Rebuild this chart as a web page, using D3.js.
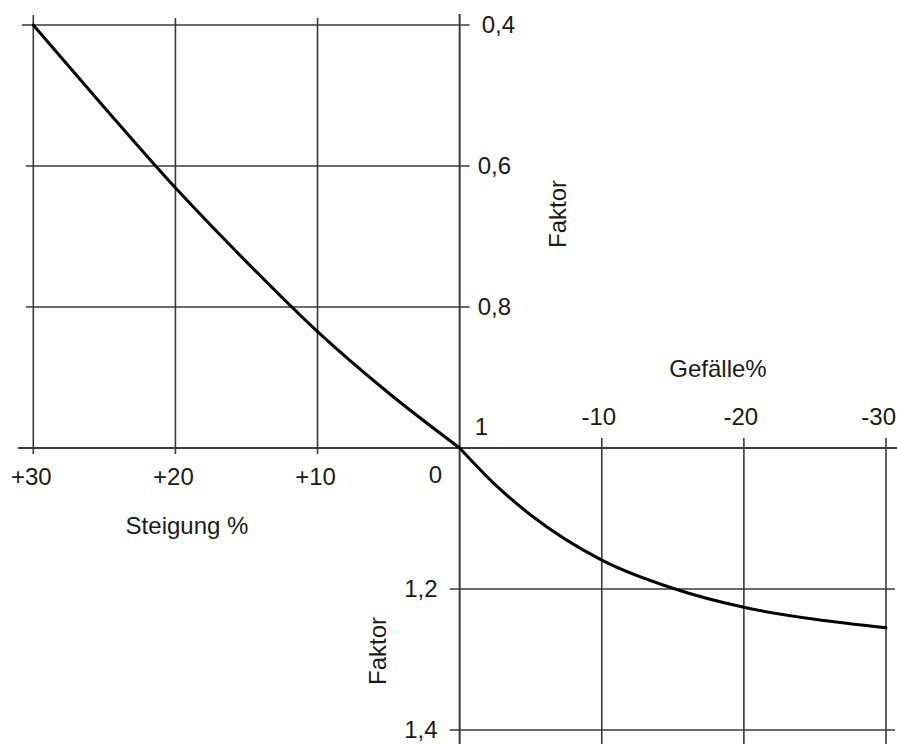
<!DOCTYPE html>
<html>
<head>
<meta charset="utf-8">
<script src="https://cdn.jsdelivr.net/npm/d3@7"></script>
<style>
  html, body { margin: 0; padding: 0; background: #ffffff; }
  svg { display: block; }
  text { font-family: "Liberation Sans", Arial, Helvetica, sans-serif; fill: #1a1a1a; }
</style>
</head>
<body>
<svg id="chart" width="897" height="744"></svg>
<script>
// ---- data ----
const slopePct = [30, 25, 20, 15, 10, 5, 0, -2.5, -5, -10, -15, -20, -25, -30];
const factorValues = [0.400, 0.517, 0.631, 0.736, 0.835, 0.922, 1.0, 1.052, 1.095, 1.159, 1.199, 1.226, 1.243, 1.255];

const steigungTicks = [30, 20, 10];
const steigungLabels = ["+30", "+20", "+10"];
const gefaelleTicks = [-10, -20, -30];
const gefaelleLabels = ["-10", "-20", "-30"];
const upperFactorTicks = [0.4, 0.6, 0.8];
const upperFactorLabels = ["0,4", "0,6", "0,8"];
const lowerFactorTicks = [1.2, 1.4];
const lowerFactorLabels = ["1,2", "1,4"];

// ---- setup ----
const W = 897, H = 744;
const svg = d3.select("#chart");
const x = d3.scaleLinear().domain([30, -30]).range([33.3, 886]);
const y = d3.scaleLinear().domain([0.4, 1.4]).range([25, 730]);
const x0 = x(0), y1 = y(1);
const gridColor = "#3a3a3a";
const fs = 24;

const grid = svg.append("g").attr("stroke", gridColor).attr("stroke-width", 1.6).attr("fill", "none");

// upper-left vertical grid lines (Steigung)
grid.selectAll("line.vup").data(steigungTicks).join("line")
  .attr("x1", d => x(d)).attr("x2", d => x(d))
  .attr("y1", (d, i) => i === 0 ? 15 : 18).attr("y2", y1 + 6);

// upper-left horizontal grid lines (factor < 1)
grid.selectAll("line.hup").data(upperFactorTicks).join("line")
  .attr("x1", (d, i) => i === 0 ? 22 : 26).attr("x2", x0 + 10)
  .attr("y1", d => y(d)).attr("y2", d => y(d));

// lower-right vertical grid lines (Gefälle)
grid.selectAll("line.vdn").data(gefaelleTicks).join("line")
  .attr("x1", d => x(d)).attr("x2", d => x(d))
  .attr("y1", y1 - 10).attr("y2", H);

// lower-right horizontal grid lines (factor > 1)
grid.selectAll("line.hdn").data(lowerFactorTicks).join("line")
  .attr("x1", x0 - 10).attr("x2", 895)
  .attr("y1", d => y(d)).attr("y2", d => y(d));

// main axes
grid.append("line").attr("x1", 18).attr("x2", W).attr("y1", y1).attr("y2", y1).attr("stroke-width", 2);
grid.append("line").attr("x1", x0).attr("x2", x0).attr("y1", 14).attr("y2", H).attr("stroke-width", 2);

// ---- curve (two branches meeting at 0 with a kink) ----
const pts = slopePct.map((p, i) => [p, factorValues[i]]);
const upBranch = pts.filter(d => d[0] >= 0);
const downBranch = pts.filter(d => d[0] <= 0);
const line = d3.line().x(d => x(d[0])).y(d => y(d[1])).curve(d3.curveMonotoneX);
svg.selectAll("path.curve").data([upBranch, downBranch]).join("path")
  .attr("class", "curve")
  .attr("d", line)
  .attr("fill", "none")
  .attr("stroke", "#000")
  .attr("stroke-width", 3)
  .attr("stroke-linejoin", "round")
  .attr("stroke-linecap", "round");

// ---- labels ----
const lab = svg.append("g").attr("font-size", fs);

lab.selectAll("text.st").data(steigungTicks).join("text")
  .attr("x", d => x(d) - 2).attr("y", y1 + 37)
  .attr("text-anchor", "middle")
  .text((d, i) => steigungLabels[i]);

lab.selectAll("text.gf").data(gefaelleTicks).join("text")
  .attr("x", (d, i) => i === 2 ? 896 : x(d) - 3).attr("y", y1 - 23)
  .attr("text-anchor", (d, i) => i === 2 ? "end" : "middle")
  .text((d, i) => gefaelleLabels[i]);

lab.selectAll("text.uf").data(upperFactorTicks).join("text")
  .attr("x", (d, i) => i === 0 ? x0 + 22 : x0 + 18).attr("y", d => y(d) + 8)
  .attr("text-anchor", "start")
  .text((d, i) => upperFactorLabels[i]);

lab.selectAll("text.lf").data(lowerFactorTicks).join("text")
  .attr("x", x0 - 22).attr("y", d => y(d) + 8)
  .attr("text-anchor", "end")
  .text((d, i) => lowerFactorLabels[i]);

lab.append("text").attr("x", x0 + 15).attr("y", y1 - 13).text("1");
lab.append("text").attr("x", x0 - 31).attr("y", y1 + 35).text("0");

lab.append("text").attr("x", 718).attr("y", 377).attr("text-anchor", "middle").text("Gefälle%");
lab.append("text").attr("x", 187).attr("y", 534).attr("text-anchor", "middle").text("Steigung %");

lab.append("text")
  .attr("transform", `translate(${566},${214}) rotate(-90)`)
  .attr("text-anchor", "middle").text("Faktor");
lab.append("text")
  .attr("transform", `translate(${386},${651}) rotate(-90)`)
  .attr("text-anchor", "middle").text("Faktor");
</script>
</body>
</html>
